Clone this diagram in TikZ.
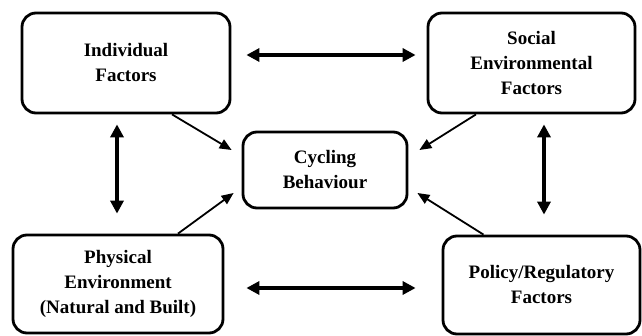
\documentclass[tikz,border=0pt]{standalone}
\usepackage{fontspec}
\setmainfont{Liberation Serif}
\usetikzlibrary{arrows.meta}
\tikzset{
  factorbox/.style={draw, line width=2.8pt, rounded corners=14pt, align=center,
    font=\fontsize{19}{25}\selectfont\bfseries, inner sep=0pt},
  bigarrow/.style={line width=4pt, {Triangle[length=13pt,width=13pt]}-{Triangle[length=13pt,width=13pt]}},
  thinarrow/.style={line width=1.8pt, -{Triangle[length=12pt,width=10pt]}}
}
\begin{document}
\begin{tikzpicture}[x=1pt,y=-1pt]
\useasboundingbox (0,0) rectangle (642,336);
\node[factorbox, minimum width=208pt, minimum height=100pt] (ind) at (126,63) {Individual\\Factors};
\node[factorbox, minimum width=207pt, minimum height=100pt] (soc) at (531.5,63) {Social\\Environmental\\Factors};
\node[factorbox, minimum width=164pt, minimum height=76pt] (cyc) at (325,170) {Cycling\\Behaviour};
\node[factorbox, minimum width=210pt, minimum height=98pt] (phy) at (118,284) {Physical\\Environment\\(Natural and Built)};
\node[factorbox, minimum width=197pt, minimum height=98pt] (pol) at (541.5,285) {Policy/Regulatory\\Factors};
% double arrows
\draw[bigarrow, shorten <=15pt, shorten >=11pt] ([yshift=8pt]ind.east) -- ([yshift=8pt]soc.west);
\draw[bigarrow, shorten <=22pt, shorten >=26pt] ([yshift=-4pt]phy.east) -- ([yshift=-3pt]pol.west);
\draw[bigarrow, shorten <=10pt, shorten >=20pt] ([xshift=-1pt]phy.north |- ind.south) -- ([xshift=-1pt]phy.north);
\draw[bigarrow, shorten <=10pt, shorten >=20pt] ([xshift=2.5pt]pol.north |- soc.south) -- ([xshift=2.5pt]pol.north);
% single arrows
\draw[thinarrow] ([xshift=46pt]ind.south) -- ([xshift=-10pt,yshift=20pt]cyc.west);
\draw[thinarrow] ([xshift=-55.5pt]soc.south) -- ([xshift=11pt,yshift=20pt]cyc.east);
\draw[thinarrow] ([xshift=60pt]phy.north) -- ([xshift=-8pt,yshift=-23pt]cyc.west);
\draw[thinarrow] ([xshift=-58pt]pol.north) -- ([xshift=9pt,yshift=-23pt]cyc.east);
\end{tikzpicture}
\end{document}
